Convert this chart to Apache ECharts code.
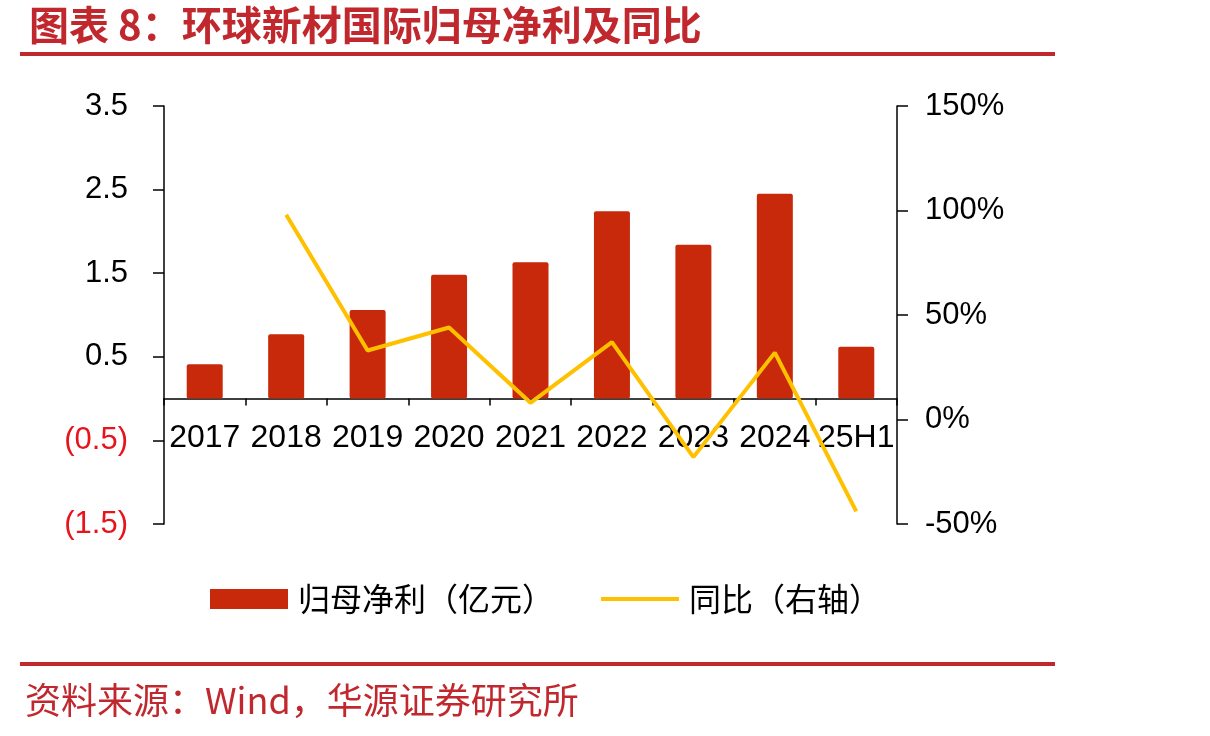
<!DOCTYPE html>
<html>
<head>
<meta charset="utf-8">
<title>环球新材国际归母净利及同比</title>
<script src="https://cdn.jsdelivr.net/npm/echarts@6/dist/echarts.min.js"></script>
<style>
  html, body { margin: 0; padding: 0; background: #fff; }
  #chart { width: 1210px; height: 736px; }
</style>
</head>
<body>
<div id="chart"></div>
<script>
// 数据
const categories = ['2017', '2018', '2019', '2020', '2021', '2022', '2023', '2024', '25H1']
const netProfit = [0.41, 0.77, 1.06, 1.48, 1.63, 2.24, 1.84, 2.45, 0.62]   // 亿元
const yoy = [null, 98, 33, 44, 8, 37, -18, 32, -44]                        // %
const leftTicks = { min: -1.5, max: 3.5, interval: 1 }
const rightTicks = { min: -50, max: 150, interval: 50 }

const RED = '#C0282E'
const BAR = '#C8290A'
const GOLD = '#FFC000'
const NUM_FONT = '"Liberation Sans", Arial, sans-serif'
const CJK_FONT = '"Noto Sans CJK SC", sans-serif'

// 主绘图区
const GRID_TOP = 106
const GRID_H = 418
// 零轴所在高度（左轴），横轴标签放在这里
const zeroY = GRID_TOP + GRID_H * (leftTicks.max / (leftTicks.max - leftTicks.min))

const myChart = echarts.init(document.getElementById('chart'))
myChart.setOption({
  animation: false,
  backgroundColor: '#fff',
  title: {
    text: '图表 8：环球新材国际归母净利及同比',
    left: 24,
    top: 0,
    textStyle: {
      color: RED,
      fontSize: 40,
      fontWeight: 'bold',
      fontFamily: CJK_FONT
    }
  },
  graphic: [
    { type: 'rect', shape: { x: 20, y: 52, width: 1035, height: 4 }, style: { fill: RED } },
    { type: 'rect', shape: { x: 20, y: 662, width: 1035, height: 4 }, style: { fill: RED } },
    {
      type: 'text',
      left: 25,
      top: 682,
      style: {
        text: '资料来源：Wind，华源证券研究所',
        fill: RED,
        fontSize: 36,
        fontFamily: CJK_FONT
      }
    }
  ],
  legend: {
    left: 210,
    top: 583,
    padding: 0,
    itemWidth: 78,
    itemHeight: 20,
    itemGap: 47,
    textStyle: {
      fontSize: 32,
      color: '#000',
      fontFamily: CJK_FONT,
      padding: [0, 0, 0, 5]
    },
    data: [
      { name: '归母净利（亿元）', icon: 'rect' },
      { name: '同比（右轴）', icon: 'path://M0,0L80,0L80,4L0,4Z', itemStyle: { color: GOLD } }
    ]
  },
  grid: [
    { left: 164, right: 313, top: GRID_TOP, height: GRID_H },
    // 只用来画零轴上的横轴
    { left: 164, right: 313, top: GRID_TOP, height: zeroY - GRID_TOP }
  ],
  xAxis: [
    {
      type: 'category',
      gridIndex: 0,
      data: categories,
      axisLine: { show: false },
      axisTick: { show: false },
      axisLabel: { show: false },
      splitLine: { show: false }
    },
    {
      type: 'category',
      gridIndex: 1,
      data: categories,
      axisLine: { show: true, lineStyle: { color: '#000', width: 1.5 } },
      axisTick: { show: true, length: 7, lineStyle: { color: '#000', width: 1.5 } },
      axisLabel: {
        interval: 0,
        margin: 24,
        color: '#000',
        fontSize: 32,
        fontFamily: NUM_FONT
      },
      splitLine: { show: false }
    }
  ],
  yAxis: [
    {
      type: 'value',
      gridIndex: 0,
      position: 'left',
      min: leftTicks.min,
      max: leftTicks.max,
      interval: leftTicks.interval,
      axisLine: { show: true, onZero: false, lineStyle: { color: '#000', width: 1.5 } },
      axisTick: { show: true, length: 11, lineStyle: { color: '#000', width: 1.5 } },
      splitLine: { show: false },
      axisLabel: {
        margin: 36,
        fontSize: 31,
        fontFamily: NUM_FONT,
        color: function (v) { return v < 0 ? '#E8141C' : '#000' },
        formatter: function (v) {
          const s = Math.abs(v).toFixed(1)
          return v < 0 ? '(' + s + ')' : s
        }
      }
    },
    {
      type: 'value',
      gridIndex: 0,
      position: 'right',
      min: rightTicks.min,
      max: rightTicks.max,
      interval: rightTicks.interval,
      axisLine: { show: true, onZero: false, lineStyle: { color: '#000', width: 1.5 } },
      axisTick: { show: true, length: 11, lineStyle: { color: '#000', width: 1.5 } },
      splitLine: { show: false },
      axisLabel: {
        margin: 28,
        fontSize: 31,
        fontFamily: NUM_FONT,
        color: '#000',
        formatter: '{value}%'
      }
    },
    {
      type: 'value',
      gridIndex: 1,
      show: false,
      min: 0,
      max: 1
    }
  ],
  series: [
    {
      name: '归母净利（亿元）',
      type: 'bar',
      xAxisIndex: 0,
      yAxisIndex: 0,
      barWidth: 36,
      itemStyle: { color: BAR, borderRadius: 2 },
      data: netProfit
    },
    {
      name: '同比（右轴）',
      type: 'line',
      xAxisIndex: 0,
      yAxisIndex: 1,
      symbol: 'none',
      lineStyle: { color: GOLD, width: 4 },
      itemStyle: { color: GOLD },
      z: 3,
      data: yoy
    }
  ]
})
</script>
</body>
</html>
